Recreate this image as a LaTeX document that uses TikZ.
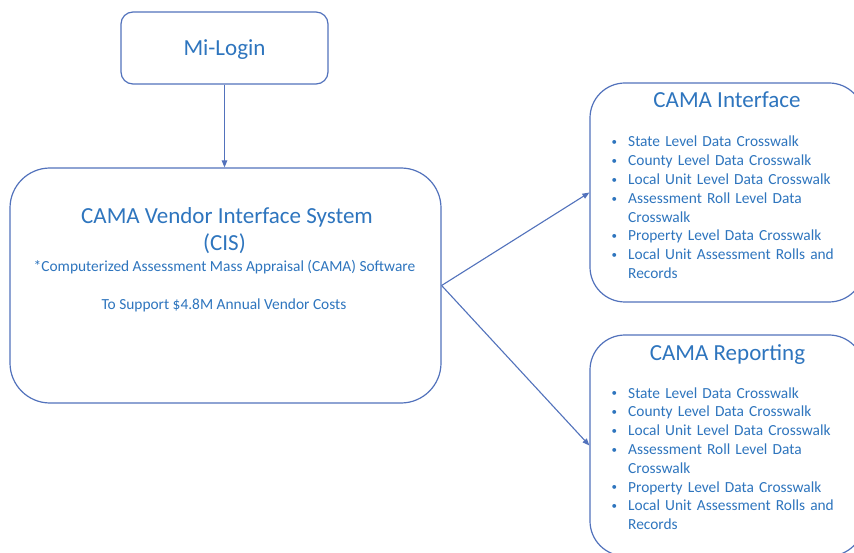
\documentclass[tikz,border=0pt]{standalone}
\usepackage{fontspec}
\setmainfont{Carlito}
\usetikzlibrary{arrows.meta}
\definecolor{txtblue}{RGB}{46,117,190}
\definecolor{lineblue}{RGB}{82,114,188}
% one bulleted entry with a hanging indent for wrapped lines
\newcommand\bulletline[1]{\noindent\hangindent=17pt\hangafter=1%
  \makebox[17pt][l]{\hspace{0.5pt}\raisebox{1.2pt}{\fontsize{11}{11}\selectfont •}}#1\par}

\begin{document}
\begin{tikzpicture}[x=1pt,y=-1pt,
  box/.style={draw=lineblue, line width=1.2pt, fill=white, inner sep=0pt},
  link/.style={draw=lineblue, line width=1.1pt, -{Triangle[length=7pt,width=5.5pt]}},
  title/.style={text=txtblue, font=\fontsize{23}{28}\selectfont, inner sep=0pt, anchor=base},
  body/.style={text=txtblue, font=\fontsize{15.4}{18.8}\selectfont, inner sep=0pt, anchor=base},
  list/.style={text=txtblue, font=\fontsize{15.4}{18.8}\selectfont, inner sep=0pt,
    text width=240pt, align=left, anchor=base west}]

\useasboundingbox (0,0) rectangle (854,553);
\clip (0,0) rectangle (854,553);
\fill[white] (0,0) rectangle (854,553);

% boxes
\node[box, rounded corners=12pt, minimum width=207pt, minimum height=72pt] (mi) at (224.5,48) {};
\node[box, rounded corners=40pt, minimum width=431pt, minimum height=235pt] (cis) at (225.5,285.5) {};
\node[box, rounded corners=35pt, minimum width=274pt, minimum height=219pt] (ci) at (727,192.5) {};
\node[box, rounded corners=35pt, minimum width=274pt, minimum height=221pt] (cr) at (727,445.5) {};

% connectors
\draw[link] (mi.south) -- (mi.south |- cis.north);
\draw[link] (cis.east) -- (ci.west);
\draw[link] (cis.east) -- (cr.west);

% texts
\node[title] (milabel) at (224.5,56) {Mi-Login};
\node[title] (cistitle) at (227,224) {CAMA Vendor Interface System};
\node[title] (cisabbr) at (224.5,251) {(CIS)};
\node[body] (cisnote) at (224.5,272) {*Computerized Assessment Mass Appraisal (CAMA) Software};
\node[body] (ciscost) at (224,310) {To Support \$4.8M Annual Vendor Costs};

\node[title] (cititle) at (727,108) {CAMA Interface};
\node[list] (cilist) at (611,147) {%
  \bulletline{State Level Data Crosswalk}%
  \bulletline{County Level Data Crosswalk}%
  \bulletline{Local Unit Level Data Crosswalk}%
  \bulletline{Assessment Roll Level Data\newline Crosswalk}%
  \bulletline{Property Level Data Crosswalk}%
  \bulletline{Local Unit Assessment Rolls and\newline Records}};

\node[title] (crtitle) at (727.5,360) {CAMA Reporting};
\node[list] (crlist) at (611,398) {%
  \bulletline{State Level Data Crosswalk}%
  \bulletline{County Level Data Crosswalk}%
  \bulletline{Local Unit Level Data Crosswalk}%
  \bulletline{Assessment Roll Level Data\newline Crosswalk}%
  \bulletline{Property Level Data Crosswalk}%
  \bulletline{Local Unit Assessment Rolls and\newline Records}};
\end{tikzpicture}
\end{document}
